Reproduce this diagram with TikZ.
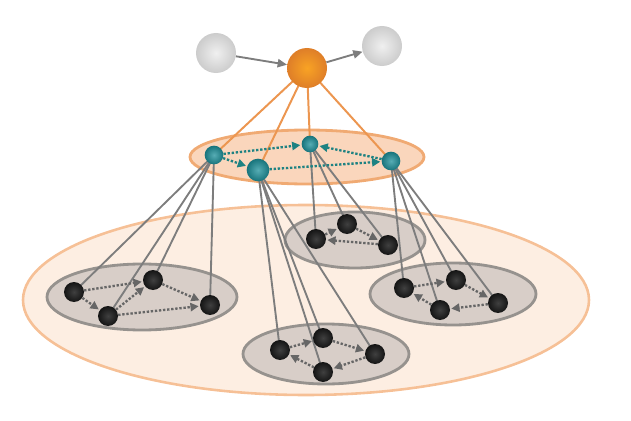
\documentclass[tikz,border=0pt]{standalone}
\usetikzlibrary{arrows.meta}

\definecolor{ballorange}{RGB}{247,140,45}
\definecolor{ballteal}{RGB}{30,145,155}
\definecolor{linkorange}{RGB}{236,150,80}
\definecolor{layerfill}{RGB}{250,214,188}
\definecolor{layerdraw}{RGB}{240,170,115}
\definecolor{basefill}{RGB}{253,238,226}
\definecolor{basedraw}{RGB}{246,192,150}
\definecolor{groupfill}{RGB}{216,206,200}
\definecolor{groupdraw}{RGB}{150,146,142}
\definecolor{linkgrey}{RGB}{125,125,125}
\definecolor{tealdot}{RGB}{30,130,130}

\pgfdeclarelayer{back}
\pgfdeclarelayer{mid}
\pgfsetlayers{back,mid,main}

\tikzset{
  ghost/.style={circle, shade, inner color=gray!12, outer color=gray!40, minimum size=1.2cm, inner sep=0pt},
  leader/.style={circle, shade, inner color=ballorange!80!yellow, outer color=ballorange!90!black, minimum size=1.2cm, inner sep=0pt},
  cluster/.style={circle, shade, inner color=ballteal!75!white, outer color=ballteal!80!black, inner sep=0pt},
  agent/.style={circle, shade, inner color=black!75, outer color=black!92, minimum size=0.6cm, inner sep=0pt},
  tealflow/.style={tealdot, line width=2pt, dash pattern=on 2pt off 1.5pt, -{Triangle[length=7pt,width=7pt]}, shorten >=1pt},
  greyflow/.style={black!60, line width=2pt, dash pattern=on 2pt off 1.5pt, -{Triangle[length=7pt,width=7pt]}, shorten >=1pt},
  group/.style={fill=groupfill, draw=groupdraw, line width=2.4pt},
}

\begin{document}
\begin{tikzpicture}[x=0.03cm, y=-0.03cm]
    \useasboundingbox (0,0) rectangle (631,421);

    % Draw layers
    \begin{pgfonlayer}{back}
    \filldraw[fill=basefill, draw=basedraw, line width=2.2pt] (306,300) ellipse (283 and 95);
    \filldraw[fill=layerfill, draw=layerdraw, line width=2.4pt] (307,157) ellipse (117 and 27);

    % Draw groups
    \filldraw[group] (142,297) ellipse (95 and 33);
    \filldraw[group] (355,240) ellipse (70 and 28);
    \filldraw[group] (453,294) ellipse (83 and 31);
    \filldraw[group] (326,354) ellipse (83 and 30);
    \end{pgfonlayer}

    % Draw top nodes
    \node[ghost] (in) at (216,53) {};
    \node[ghost] (out) at (382,46) {};
    \node[leader] (L) at (307,68) {};

    % Draw cluster heads
    \node[cluster, minimum size=0.56cm] (A) at (214,155) {};
    \node[cluster, minimum size=0.68cm] (B) at (258,170) {};
    \node[cluster, minimum size=0.5cm] (C) at (310,144) {};
    \node[cluster, minimum size=0.56cm] (D) at (391,161) {};

    % Draw agents
    \node[agent] (a1) at (74,292) {};
    \node[agent] (a2) at (108,316) {};
    \node[agent] (a3) at (153,280) {};
    \node[agent] (a4) at (210,305) {};

    \node[agent] (c1) at (316,239) {};
    \node[agent] (c2) at (347,224) {};
    \node[agent] (c3) at (388,245) {};

    \node[agent] (d1) at (404,288) {};
    \node[agent] (d2) at (456,280) {};
    \node[agent] (d3) at (498,303) {};
    \node[agent] (d4) at (440,310) {};

    \node[agent] (b1) at (280,350) {};
    \node[agent] (b2) at (323,338) {};
    \node[agent] (b3) at (375,354) {};
    \node[agent] (b4) at (323,372) {};

    % Draw lines
    \draw[-{Triangle[length=8pt,width=7pt]}, linkgrey, line width=1.6pt] (in) -- (L);
    \draw[-{Triangle[length=8pt,width=7pt]}, linkgrey, line width=1.6pt] (L) -- (out);

    \begin{pgfonlayer}{mid}
    \foreach \h in {A,B,C,D}
      \draw[linkorange, line width=1.7pt] (L.center) -- (\h.center);
    \foreach \h/\t in {A/a1,A/a2,A/a3,A/a4,B/b1,B/b2,B/b3,B/b4,C/c1,C/c2,C/c3,D/d1,D/d2,D/d3,D/d4}
      \draw[linkgrey, line width=1.6pt] (\h.center) -- (\t.center);
    \end{pgfonlayer}

    % Draw flows
    \draw[tealflow] (A) -- (C);
    \draw[tealflow] (A) -- (B);
    \draw[tealflow] (B) -- (D);
    \draw[tealflow] (D) -- (C);

    \draw[greyflow] (a1) -- (a3);
    \draw[greyflow] (a1) -- (a2);
    \draw[greyflow] (a2) -- (a3);
    \draw[greyflow] (a3) -- (a4);
    \draw[greyflow] (a2) -- (a4);

    \draw[greyflow] (c1) -- (c2);
    \draw[greyflow] (c2) -- (c3);
    \draw[greyflow] (c3) -- (c1);

    \draw[greyflow] (d1) -- (d2);
    \draw[greyflow] (d2) -- (d3);
    \draw[greyflow] (d3) -- (d4);
    \draw[greyflow] (d4) -- (d1);

    \draw[greyflow] (b1) -- (b2);
    \draw[greyflow] (b2) -- (b3);
    \draw[greyflow] (b3) -- (b4);
    \draw[greyflow] (b4) -- (b1);
\end{tikzpicture}
\end{document}
